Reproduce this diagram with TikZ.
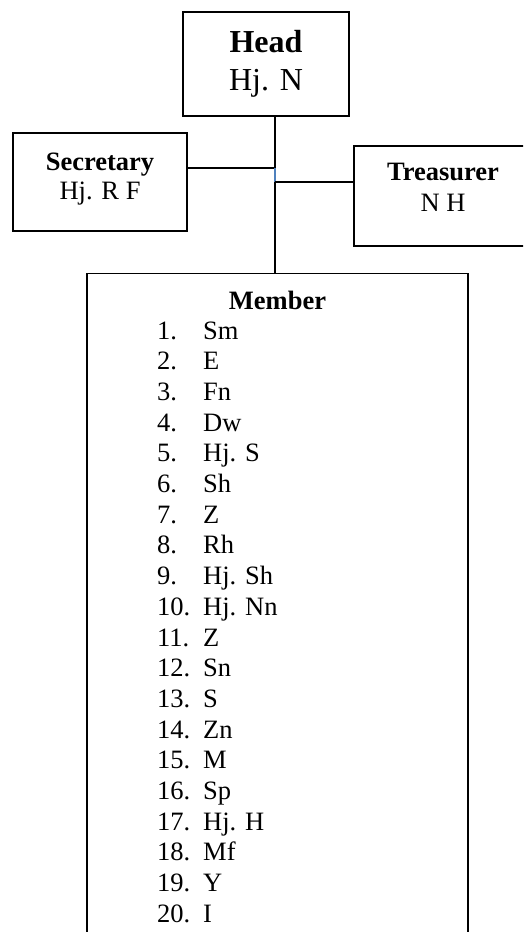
\documentclass[tikz,border=0pt]{standalone}
\usepackage{fontspec}
\setmainfont{Liberation Serif}
\definecolor{joinblue}{RGB}{79,129,189}
\newcommand{\headfont}{\fontsize{32}{38}\selectfont}
\newcommand{\postfont}{\fontsize{26.5}{29}\selectfont}
\newcommand{\listfont}{\fontsize{26.5}{30.7}\selectfont}

\begin{document}
\begin{tikzpicture}[x=1pt,y=-1pt,
  box/.style={draw,line width=1.2pt,inner sep=0pt,align=center},
  link/.style={line width=1.2pt}]
\useasboundingbox (0,0) rectangle (523,932);
\clip (0,0) rectangle (523,932);

\node[box,minimum width=166pt,minimum height=104pt,font=\headfont] (head) at (266,64)
  {\textbf{Head}\\Hj. N};
\node[box,minimum width=174pt,minimum height=98pt,font=\postfont,text depth=11.8pt] (sec) at (100,182)
  {\textbf{Secretary}\\Hj. R F};
\node[box,minimum width=178pt,minimum height=100pt,font=\postfont,text depth=16.5pt] (tre) at (443,196)
  {\textbf{Treasurer}\\[2pt]N H};
\node[box,minimum width=381pt,minimum height=700pt,anchor=north] (member) at (277.5,273) {};

\node[anchor=base,font=\listfont\bfseries] (member-title) at (277.5,309) {Member};
\foreach \name [count=\i] in {Sm,E,Fn,Dw,Hj. S,Sh,Z,Rh,Hj. Sh,Hj. Nn,Z,Sn,S,Zn,M,Sp,Hj. H,Mf,Y,I} {
  \node[anchor=base west,font=\listfont,inner sep=0pt] (num-\i) at (157,{339+30.7*(\i-1)}) {\i.};
  \node[anchor=base west,font=\listfont,inner sep=0pt] (name-\i) at (203,{339+30.7*(\i-1)}) {\name};
}

\coordinate (sec-join) at (275,168);
\coordinate (tre-join) at (275,182);
\draw[link] (head.south -| sec-join) -- (sec-join);
\draw[link] (sec.east |- sec-join) -- (sec-join);
\draw[line width=1.5pt,joinblue] (sec-join) -- (tre-join);
\draw[link] (tre-join) -- (tre.west |- tre-join);
\draw[link] (tre-join) -- (member.north -| tre-join);
\end{tikzpicture}
\end{document}
